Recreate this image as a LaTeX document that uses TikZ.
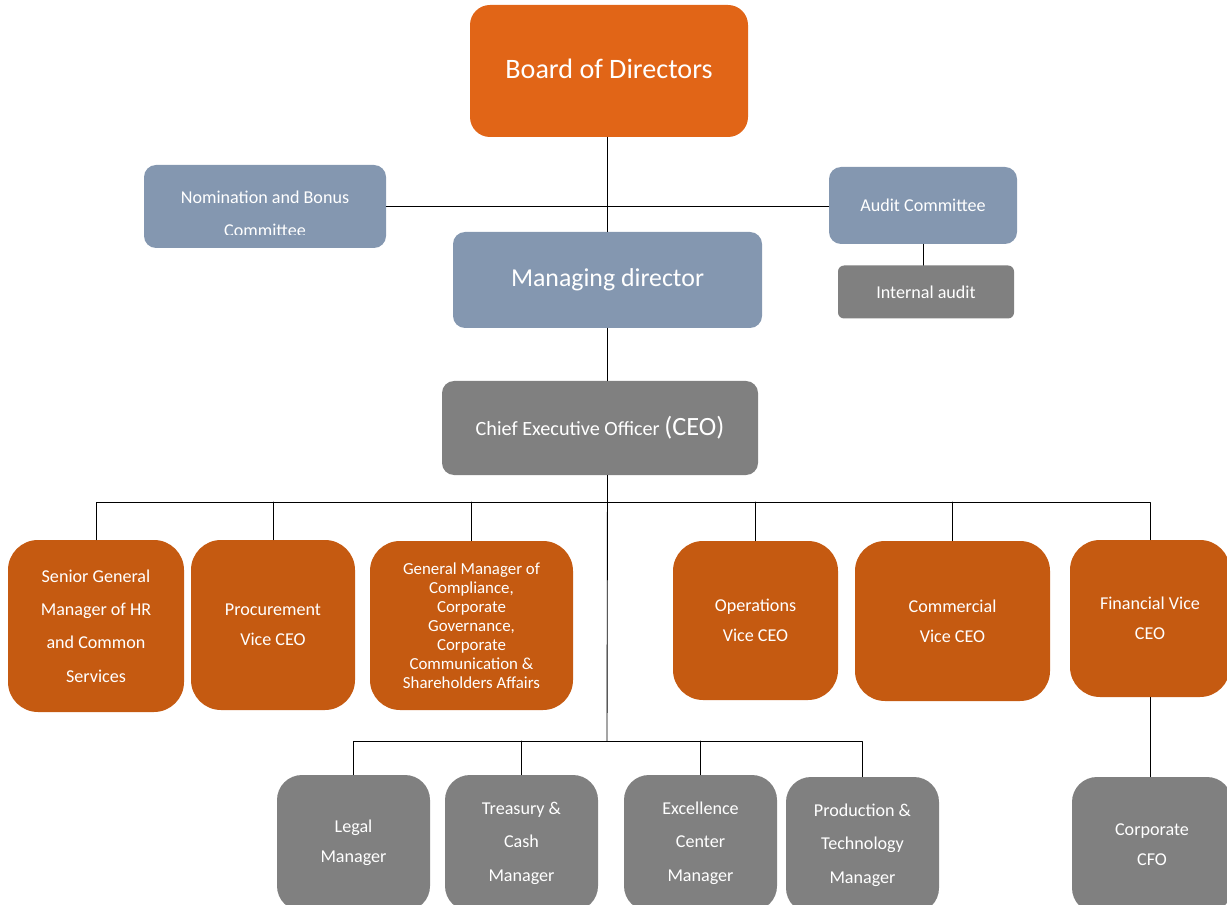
\documentclass[tikz,border=0pt]{standalone}
\usepackage{fontspec}
\setmainfont{Carlito}
\definecolor{boardorange}{HTML}{E16517}
\definecolor{unitorange}{HTML}{C55A11}
\definecolor{slateblue}{HTML}{8497B0}
\definecolor{midgray}{HTML}{808080}
\begin{document}
\begin{tikzpicture}[x=0.02cm,y=-0.02cm,line join=round,line cap=round,
		box/.style={rectangle,text=white,align=center,inner sep=0pt},
		sz/.style 2 args={minimum width=#1*0.02cm,minimum height=#2*0.02cm},
		boardbox/.style={box,fill=boardorange,rounded corners=0.4cm},
		bluebox/.style={box,fill=slateblue,rounded corners=0.24cm},
		greybox/.style={box,fill=midgray,rounded corners=0.24cm},
		unitbox/.style={box,fill=unitorange,rounded corners=0.6cm},
		mgrbox/.style={box,fill=midgray,rounded corners=0.5cm},
		small/.style={font=\fontsize{10.3}{#1}\selectfont},
		link/.style={draw=black,line width=0.5pt}]
	\clip (0,0) rectangle (1227,905);
	\node[boardbox,sz={278}{132},font=\fontsize{16}{19}\selectfont] (board) at (609,71) {\raisebox{2pt}{Board of Directors}};
	\node[bluebox,sz={242}{83}] (nom) at (265,206.5) {};
	\begin{scope}
		\clip (nom.north west) rectangle ([yshift=0.28cm]nom.south east);
		\node[box,small=19] at (265,214) {Nomination and Bonus\\Committee};
	\end{scope}
	\node[bluebox,sz={188}{77},small=19] (audit) at (923,205.5) {Audit Committee};
	\node[greybox,sz={176}{53},small=19,rounded corners=0.12cm] (int) at (926,292) {\raisebox{-2pt}{Internal audit}};
	\node[bluebox,sz={309}{96},font=\fontsize{14.7}{18}\selectfont] (md) at (607.5,280) {Managing director};
	\node[greybox,sz={316}{94},font=\fontsize{11.5}{14}\selectfont] (ceo) at (600,428) {Chief Executive Officer {\fontsize{15}{18}\selectfont(CEO)}};
	\node[unitbox,sz={176}{172},small=19] (hr) at (96,626) {Senior General\\Manager of HR\\and Common\\Services};
	\node[unitbox,sz={164}{170},small=17] (proc) at (273,625) {Procurement\\Vice CEO};
	\node[unitbox,sz={203}{169},font=\fontsize{9.6}{10.8}\selectfont] (gm) at (471.5,625.5) {General Manager of\\Compliance,\\Corporate\\Governance,\\Corporate\\Communication \&\\Shareholders Affairs};
	\node[unitbox,sz={165}{159},small=17] (ops) at (755.5,620.5) {Operations\\Vice CEO};
	\node[unitbox,sz={195}{160},small=17] (com) at (952.5,621) {Commercial\\Vice CEO};
	\node[unitbox,sz={160}{157},small=17] (fin) at (1150,618.5) {Financial Vice\\CEO};
	\node[mgrbox,sz={153}{136},small=17] (legal) at (353.5,843) {Legal\\Manager};
	\node[mgrbox,sz={153}{136},small=19] (treas) at (521.5,843) {Treasury \&\\Cash\\Manager};
	\node[mgrbox,sz={153}{136},small=19] (exc) at (700.5,843) {Excellence\\Center\\Manager};
	\node[mgrbox,sz={153}{136},small=19] (prod) at (862.5,845) {Production \&\\Technology\\Manager};
	\node[mgrbox,sz={160}{136},small=17] (cfo) at (1152,845) {Corporate\\CFO};
	\coordinate (bus) at (607,502);
	\coordinate (low) at (607,741);
	\draw[link] (md.north |- board.south) -- (md.north);
	\draw[link] (nom.east) -- (nom.east -| audit.west);
	\draw[link] (audit.south) -- (audit.south |- int.north);
	\draw[link] (md.south) -- (md.south |- ceo.north);
	\draw[link] (md.south |- ceo.south) -- (low);
	\draw[link] (hr.north) -- (hr.north |- bus) -- (fin.north |- bus) -- (fin.north);
	\foreach \n in {proc,gm,ops,com}
		\draw[link] (\n.north) -- (\n.north |- bus);
	\draw[link] (legal.north) -- (legal.north |- low) -- (prod.north |- low) -- (prod.north);
	\foreach \n in {treas,exc}
		\draw[link] (\n.north) -- (\n.north |- low);
	\draw[link] (fin.south) -- (fin.south |- cfo.north);
\end{tikzpicture}
\end{document}
